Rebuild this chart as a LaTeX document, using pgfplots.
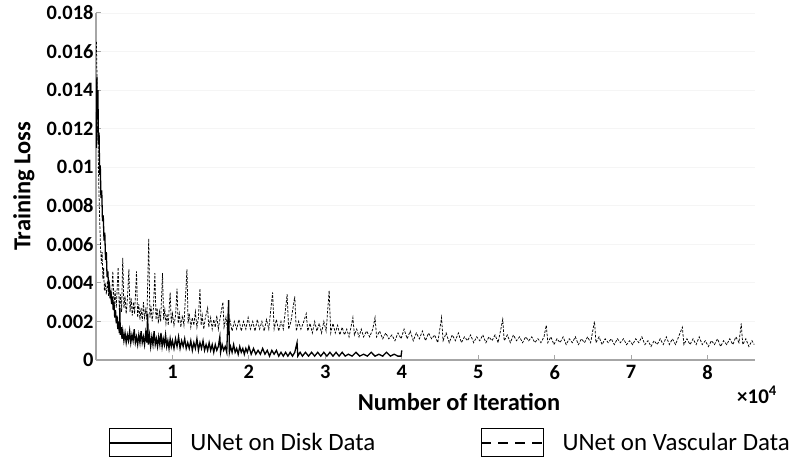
\documentclass[border=0pt]{standalone}
\usepackage{fontspec}
\setmainfont{Carlito}
\usepackage{pgfplots}
\pgfplotsset{compat=1.18}
\begin{document}
\begin{tikzpicture}
\begin{axis}[
  scale only axis, width=659bp, height=347bp,
  xmin=0, xmax=8.62, ymin=0, ymax=0.018,
  axis x line*=bottom, axis y line*=left,
  axis line style={-, draw=gray!70, line width=1.2bp},
  xtick={1,2,3,4,5,6,7,8},
  ytick={0,0.002,0.004,0.006,0.008,0.01,0.012,0.014,0.016,0.018},
  yticklabels={0,0.002,0.004,0.006,0.008,0.01,0.012,0.014,0.016,0.018},
  scaled x ticks=false, scaled y ticks=false,
  tick align=inside, major tick length=5bp,
  tick style={gray!70, line width=1bp},
  ymajorgrids, grid style={gray!8, line width=0.8bp},
  ticklabel style={font=\fontsize{20.5}{22}\selectfont\bfseries},
  yticklabel style={xshift=1bp},
  xticklabel style={yshift=-2bp},
  /pgf/number format/assume math mode=true,
  legend columns=2,
  legend style={at={(axis description cs:0.0182,-0.239)}, anchor=west,
    draw=none, fill=none, inner sep=0pt, outer sep=0pt,
    nodes={inner sep=0pt},
    font=\fontsize{25}{28}\selectfont,
    /tikz/every odd column/.append style={column sep=18bp},
    /tikz/every even column/.append style={column sep=105bp}},
  legend cell align=left,
]
\addplot[black, line width=1.3bp, legend image code/.code={
    \draw[solid, line width=0.9bp, black] (0bp,-14bp) rectangle (62bp,14bp);
    \draw[solid, line width=2.4bp, black] (0bp,0bp) -- (62bp,0bp);}]
coordinates {
(0.005,0.0110)(0.012,0.0147)(0.018,0.0128)(0.025,0.0140)(0.032,0.0112)(0.040,0.0118)
(0.048,0.0096)(0.056,0.0101)(0.065,0.0084)(0.075,0.0088)(0.085,0.0072)(0.095,0.0075)
(0.105,0.0062)(0.115,0.0066)(0.125,0.0052)(0.135,0.0056)(0.145,0.0043)(0.155,0.0046)
(0.165,0.0037)(0.175,0.0039)(0.185,0.0032)(0.195,0.0036)(0.205,0.0029)(0.215,0.0033)
(0.225,0.0026)(0.235,0.0030)(0.245,0.0022)(0.255,0.0026)(0.265,0.0019)(0.275,0.0023)
(0.285,0.0016)(0.295,0.0020)(0.305,0.0014)(0.312,0.0027)(0.318,0.0013)(0.33,0.0017)
(0.34,0.0011)(0.35,0.0015)(0.365,0.0010)(0.38,0.0014)(0.395,0.0009)(0.41,0.0013)
(0.425,0.0010)(0.44,0.0015)(0.455,0.0009)(0.47,0.0013)(0.485,0.0010)(0.50,0.0016)
(0.515,0.0009)(0.53,0.0012)(0.545,0.0008)(0.56,0.0013)(0.575,0.0009)(0.59,0.0015)
(0.605,0.0009)(0.62,0.0012)(0.635,0.0008)(0.65,0.0014)(0.665,0.0009)(0.675,0.0024)
(0.685,0.0008)(0.70,0.0013)(0.715,0.0007)(0.73,0.0012)(0.745,0.0008)(0.76,0.0015)
(0.775,0.0008)(0.79,0.0011)(0.805,0.0007)(0.82,0.0012)(0.835,0.0008)(0.85,0.0014)
(0.865,0.0007)(0.88,0.0011)(0.895,0.0008)(0.91,0.0013)(0.925,0.0007)(0.94,0.0010)
(0.955,0.0006)(0.97,0.0011)(0.985,0.0007)(1.00,0.0010)(1.02,0.0006)(1.04,0.0011)
(1.06,0.0007)(1.08,0.0012)(1.10,0.0006)(1.12,0.0010)(1.14,0.0007)(1.16,0.0011)
(1.18,0.0006)(1.20,0.0009)(1.22,0.0006)(1.24,0.0010)(1.26,0.0005)(1.28,0.0009)
(1.30,0.0006)(1.32,0.0011)(1.34,0.0005)(1.36,0.0009)(1.38,0.0006)(1.40,0.0010)
(1.42,0.0005)(1.44,0.0008)(1.46,0.0005)(1.48,0.0009)(1.50,0.0005)(1.52,0.0008)
(1.54,0.0004)(1.56,0.0008)(1.58,0.0005)(1.60,0.0007)(1.62,0.0012)(1.63,0.0004)
(1.65,0.0008)(1.67,0.0005)(1.69,0.0007)(1.71,0.0004)(1.735,0.0031)(1.745,0.0004)
(1.76,0.0007)(1.78,0.0004)(1.80,0.0008)(1.82,0.0004)(1.84,0.0006)(1.86,0.0003)
(1.88,0.0007)(1.90,0.0004)(1.92,0.0006)(1.94,0.0003)(1.96,0.0006)(1.98,0.0004)
(2.00,0.0007)(2.03,0.0003)(2.06,0.0006)(2.09,0.0003)(2.12,0.0005)(2.15,0.0003)
(2.18,0.0006)(2.21,0.0003)(2.24,0.0005)(2.27,0.0002)(2.30,0.0005)(2.33,0.0003)
(2.36,0.0005)(2.39,0.0002)(2.42,0.0004)(2.45,0.0002)(2.48,0.0004)(2.51,0.0002)
(2.54,0.0004)(2.57,0.0002)(2.60,0.0004)(2.63,0.0009)(2.64,0.0002)(2.67,0.0004)
(2.70,0.0002)(2.74,0.0004)(2.78,0.0002)(2.82,0.0004)(2.86,0.0002)(2.90,0.0004)
(2.94,0.0002)(2.98,0.0004)(3.02,0.0002)(3.06,0.0004)(3.10,0.0002)(3.14,0.0004)
(3.18,0.0002)(3.22,0.0004)(3.26,0.0002)(3.30,0.0003)(3.35,0.0002)(3.40,0.0004)
(3.45,0.0002)(3.50,0.0003)(3.55,0.0002)(3.60,0.0004)(3.65,0.0002)(3.70,0.0003)
(3.75,0.0002)(3.80,0.0004)(3.85,0.0002)(3.90,0.0003)(3.95,0.0002)(3.99,0.0002)
(4.00,0.0005)
};
\addlegendentry{UNet on Disk Data}
\addplot[black, line width=0.75bp, dash pattern=on 2.5bp off 1.5bp, legend image code/.code={
    \draw[solid, line width=0.9bp, black] (0bp,-14bp) rectangle (62bp,14bp);
    \draw[line width=2.4bp, black, dash pattern=on 10bp off 7bp] (0bp,0bp) -- (62bp,0bp);}]
coordinates {
(0.005,0.0165)(0.012,0.0150)(0.018,0.0118)(0.025,0.0121)(0.032,0.0100)(0.040,0.0085)
(0.050,0.0070)(0.060,0.0058)(0.070,0.0050)(0.080,0.0056)(0.090,0.0042)(0.100,0.0048)
(0.110,0.0036)(0.120,0.0040)(0.135,0.0034)(0.15,0.0041)(0.165,0.0033)(0.18,0.0038)
(0.20,0.0030)(0.22,0.0046)(0.235,0.0028)(0.25,0.0036)(0.265,0.0027)(0.29,0.0048)
(0.305,0.0026)(0.32,0.0034)(0.335,0.0025)(0.35,0.0053)(0.365,0.0027)(0.38,0.0033)
(0.395,0.0024)(0.41,0.0031)(0.43,0.0047)(0.445,0.0025)(0.46,0.0032)(0.475,0.0023)
(0.49,0.0030)(0.505,0.0024)(0.53,0.0046)(0.545,0.0022)(0.56,0.0029)(0.575,0.0021)
(0.59,0.0027)(0.605,0.0020)(0.62,0.0030)(0.635,0.0022)(0.65,0.0026)(0.665,0.0021)
(0.69,0.0063)(0.705,0.0022)(0.72,0.0028)(0.735,0.0020)(0.75,0.0026)(0.77,0.0045)
(0.785,0.0021)(0.80,0.0027)(0.815,0.0019)(0.83,0.0025)(0.845,0.0020)(0.87,0.0045)
(0.885,0.0021)(0.90,0.0026)(0.915,0.0019)(0.93,0.0024)(0.945,0.0018)(0.97,0.0035)
(0.985,0.0019)(1.00,0.0024)(1.02,0.0018)(1.04,0.0023)(1.06,0.0037)(1.075,0.0019)
(1.09,0.0024)(1.11,0.0017)(1.13,0.0023)(1.15,0.0018)(1.19,0.0047)(1.205,0.0019)
(1.22,0.0024)(1.24,0.0017)(1.26,0.0022)(1.28,0.0018)(1.30,0.0025)(1.32,0.0017)
(1.34,0.0022)(1.36,0.0037)(1.375,0.0018)(1.39,0.0023)(1.41,0.0016)(1.43,0.0022)
(1.46,0.0027)(1.475,0.0017)(1.50,0.0022)(1.52,0.0016)(1.54,0.0021)(1.56,0.0017)
(1.58,0.0023)(1.60,0.0016)(1.62,0.0021)(1.66,0.0030)(1.675,0.0017)(1.70,0.0022)
(1.72,0.0016)(1.75,0.0021)(1.78,0.0015)(1.81,0.0020)(1.84,0.0016)(1.87,0.0021)
(1.90,0.0015)(1.93,0.0020)(1.96,0.0016)(1.99,0.0022)(2.02,0.0016)(2.05,0.0020)
(2.08,0.0015)(2.11,0.0021)(2.14,0.0016)(2.17,0.0020)(2.20,0.0015)(2.23,0.0021)
(2.26,0.0016)(2.31,0.0035)(2.33,0.0016)(2.36,0.0021)(2.39,0.0015)(2.42,0.0020)
(2.45,0.0016)(2.50,0.0034)(2.52,0.0016)(2.55,0.0020)(2.60,0.0033)(2.62,0.0015)
(2.65,0.0020)(2.68,0.0016)(2.71,0.0019)(2.75,0.0024)(2.77,0.0015)(2.80,0.0019)
(2.83,0.0014)(2.86,0.0020)(2.89,0.0015)(2.92,0.0019)(2.95,0.0014)(2.98,0.0020)
(3.01,0.0015)(3.05,0.0036)(3.07,0.0014)(3.10,0.0019)(3.13,0.0014)(3.16,0.0018)
(3.19,0.0013)(3.22,0.0017)(3.25,0.0013)(3.28,0.0016)(3.31,0.0012)(3.36,0.0022)
(3.38,0.0013)(3.41,0.0016)(3.44,0.0012)(3.47,0.0016)(3.50,0.0012)(3.54,0.0015)
(3.58,0.0012)(3.62,0.0016)(3.65,0.0022)(3.67,0.0012)(3.71,0.0015)(3.75,0.0011)
(3.79,0.0014)(3.83,0.0011)(3.87,0.0013)(3.91,0.0010)(3.95,0.0014)(3.99,0.0011)
(4.03,0.0016)(4.07,0.0011)(4.11,0.0015)(4.15,0.0010)(4.19,0.0014)(4.23,0.0011)
(4.27,0.0015)(4.31,0.0010)(4.35,0.0014)(4.39,0.0011)(4.43,0.0013)(4.47,0.0009)
(4.52,0.0022)(4.54,0.0010)(4.58,0.0014)(4.62,0.0009)(4.66,0.0013)(4.70,0.0010)
(4.74,0.0014)(4.78,0.0009)(4.82,0.0012)(4.86,0.0010)(4.90,0.0013)(4.94,0.0009)
(4.98,0.0012)(5.02,0.0010)(5.06,0.0013)(5.10,0.0009)(5.14,0.0012)(5.18,0.0010)
(5.22,0.0013)(5.26,0.0009)(5.32,0.0021)(5.34,0.0010)(5.38,0.0013)(5.42,0.0009)
(5.46,0.0013)(5.50,0.0010)(5.54,0.0012)(5.58,0.0009)(5.62,0.0012)(5.66,0.0010)
(5.70,0.0012)(5.74,0.0009)(5.78,0.0011)(5.82,0.0009)(5.86,0.0012)(5.89,0.0018)
(5.91,0.0009)(5.95,0.0012)(5.99,0.0008)(6.03,0.0011)(6.07,0.0009)(6.11,0.0012)
(6.15,0.0008)(6.19,0.0011)(6.23,0.0009)(6.27,0.0012)(6.31,0.0008)(6.35,0.0011)
(6.39,0.0009)(6.43,0.0012)(6.47,0.0009)(6.52,0.0020)(6.54,0.0009)(6.58,0.0012)
(6.62,0.0008)(6.66,0.0011)(6.70,0.0009)(6.74,0.0011)(6.78,0.0008)(6.82,0.0011)
(6.86,0.0009)(6.90,0.0011)(6.94,0.0008)(6.98,0.0010)(7.02,0.0008)(7.06,0.0011)
(7.10,0.0009)(7.14,0.0012)(7.18,0.0008)(7.22,0.0010)(7.26,0.0007)(7.30,0.0010)
(7.34,0.0008)(7.38,0.0011)(7.42,0.0008)(7.46,0.0012)(7.50,0.0008)(7.54,0.0011)
(7.58,0.0008)(7.62,0.0012)(7.67,0.0017)(7.69,0.0008)(7.73,0.0011)(7.77,0.0008)
(7.81,0.0011)(7.85,0.0008)(7.89,0.0012)(7.93,0.0008)(7.97,0.0010)(8.01,0.0007)
(8.05,0.0010)(8.09,0.0008)(8.13,0.0011)(8.17,0.0007)(8.21,0.0010)(8.25,0.0008)
(8.29,0.0011)(8.33,0.0008)(8.37,0.0012)(8.41,0.0009)(8.44,0.0019)(8.46,0.0008)
(8.50,0.0011)(8.54,0.0007)(8.58,0.0010)(8.61,0.0008)
};
\addlegendentry{UNet on Vascular Data}
\end{axis}
\node[rotate=90, font=\fontsize{24.5}{28}\selectfont\bfseries] at ([xshift=-72bp]current axis.west) {Training Loss};
\node[font=\fontsize{24.5}{28}\selectfont\bfseries] at ([xshift=363bp,yshift=-42bp]current axis.south west) {Number of Iteration};
\node[font=\fontsize{21}{24}\selectfont\bfseries] at ([xshift=661bp,yshift=-35bp]current axis.south west) {×10\textsuperscript{4}};
\pgfresetboundingbox
\path (current axis.south west) ++(-96bp,-98bp) rectangle ++(797bp,458bp);
\end{tikzpicture}
\end{document}
